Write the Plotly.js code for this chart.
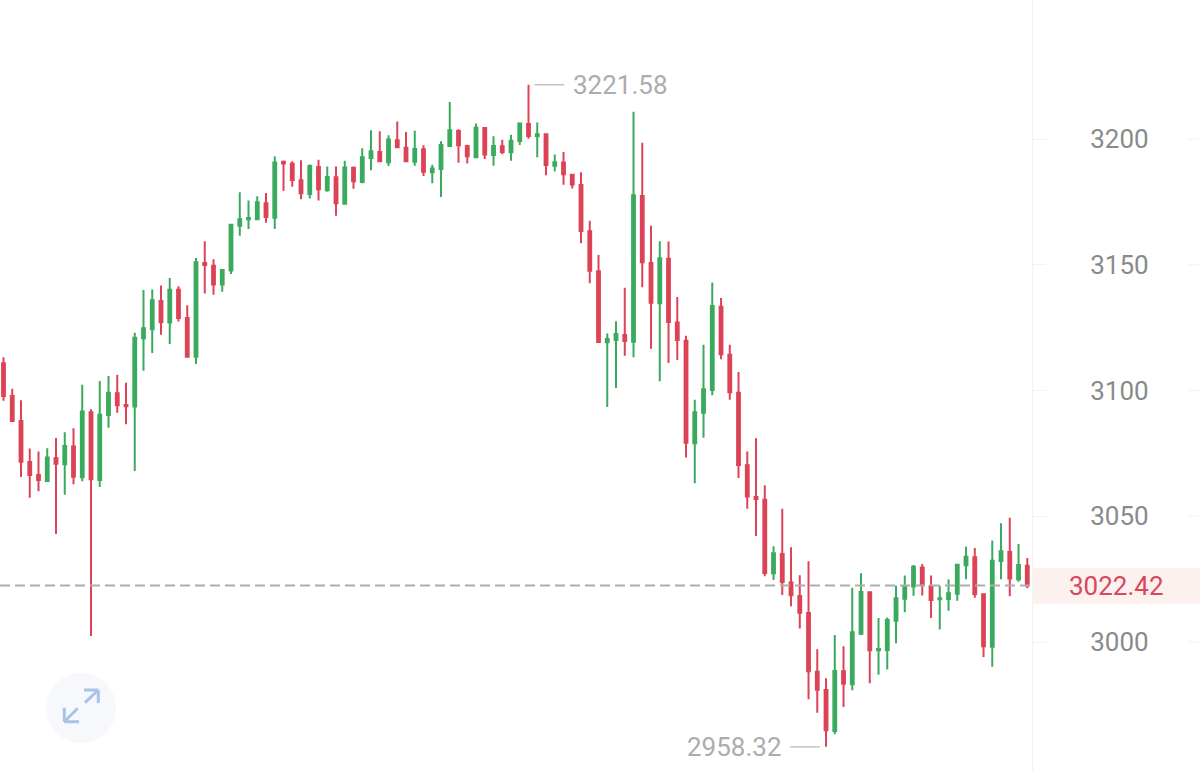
<!DOCTYPE html>
<html>
<head>
<meta charset="utf-8">
<script src="https://cdn.plot.ly/plotly-3.0.1.min.js"></script>
<style>html,body{margin:0;padding:0;background:#fff}#chart{width:1200px;height:771px}</style>
</head>
<body>
<div id="chart"></div>
<script>
var open = [3110.8,3097.8,3087.9,3071.6,3066.4,3064.0,3073.2,3070.7,3077.7,3065.5,3091.4,3064.4,3090.3,3098.9,3094.2,3093.6,3120.8,3124.4,3135.6,3127.0,3140.1,3128.8,3113.4,3150.7,3149.6,3142.1,3147.7,3165.5,3168.1,3168.1,3174.5,3168.7,3191.0,3190.2,3183.6,3178.1,3188.9,3179.6,3184.8,3174.3,3188.6,3182.9,3192.4,3194.8,3190.8,3199.5,3196.5,3191.0,3195.9,3186.8,3188.1,3197.2,3203.2,3197.2,3192.7,3204.4,3193.6,3197.1,3194.7,3199.2,3206.0,3201.1,3201.9,3189.4,3190.7,3185.8,3181.7,3163.3,3147.4,3119.2,3120.1,3122.1,3119.4,3177.3,3150.7,3134.7,3152.4,3127.0,3119.8,3079.0,3091.2,3100.2,3133.3,3114.2,3099.1,3070.3,3057.7,3056.6,3027.3,3035.0,3023.7,3018.3,3011.5,2988.2,2980.9,2964.6,2988.4,2983.2,3003.3,3019.8,2996.7,2996.8,3008.5,3017.2,3022.1,3029.6,3022.2,3017.0,3017.1,3019.2,3030.5,3033.7,3019.0,2998.1,3032.2,3035.8,3025.0,3030.3];
var high = [3113.2,3100.7,3096.1,3076.9,3075.7,3077.0,3081.1,3083.4,3085.0,3102.3,3092.5,3103.8,3105.8,3106.3,3103.1,3123.0,3140.0,3140.2,3141.8,3144.7,3141.5,3133.9,3152.7,3159.3,3152.2,3147.9,3166.1,3178.8,3175.5,3177.2,3178.5,3193.1,3191.5,3191.2,3191.6,3189.9,3191.8,3189.1,3189.1,3191.4,3189.1,3196.3,3203.5,3203.1,3201.5,3207.0,3202.8,3203.3,3197.5,3189.8,3199.1,3214.7,3203.9,3197.7,3206.2,3204.5,3201.1,3199.7,3201.7,3206.2,3221.58,3206.6,3202.1,3193.8,3194.8,3186.2,3186.8,3167.5,3153.9,3122.7,3127.5,3140.9,3210.8,3198.5,3165.5,3159.3,3159.2,3137.2,3121.8,3096.3,3118.2,3142.9,3136.8,3118.2,3107.4,3075.7,3081.0,3062.3,3038.1,3053.0,3037.7,3026.5,3032.1,2997.1,2985.6,3002.8,2998.3,3021.6,3027.3,3020.0,3009.5,3009.7,3022.4,3026.4,3030.6,3031.0,3026.4,3022.3,3024.9,3030.9,3037.9,3037.4,3019.1,3040.4,3047.2,3049.4,3039.0,3033.4];
var low = [3095.9,3087.7,3065.6,3057.4,3059.9,3063.7,3042.9,3058.6,3062.7,3063.9,3002.4,3061.6,3085.2,3091.2,3086.6,3068.0,3107.9,3114.9,3122.2,3118.5,3127.4,3113.2,3110.5,3138.6,3138.1,3139.3,3146.3,3161.5,3164.2,3167.8,3166.7,3164.2,3179.3,3181.0,3176.0,3176.3,3175.5,3179.0,3169.5,3174.1,3180.2,3182.4,3187.6,3191.0,3189.3,3196.3,3191.1,3189.4,3185.3,3182.4,3176.9,3197.1,3190.6,3190.3,3192.3,3192.0,3189.4,3193.9,3191.4,3197.6,3200.1,3192.7,3185.6,3187.1,3181.8,3180.3,3158.6,3142.6,3119.2,3093.4,3101.0,3113.8,3113.2,3141.1,3116.6,3103.7,3110.9,3112.1,3073.4,3063.1,3081.2,3098.1,3112.4,3096.3,3065.2,3053.0,3042.1,3026.1,3024.7,3018.7,3014.2,3005.4,2977.2,2971.9,2958.32,2963.3,2974.2,2980.8,3002.8,2983.6,2987.0,2989.1,2999.5,3011.8,3018.4,3018.5,3009.5,3005.0,3012.4,3016.4,3025.0,3017.6,2994.0,2990.2,3025.0,3018.2,3024.0,3021.4];
var close = [3097.8,3087.9,3071.7,3066.4,3064.4,3073.4,3070.9,3077.9,3065.7,3091.7,3064.7,3090.4,3099.1,3094.1,3093.7,3121.0,3124.8,3135.9,3127.1,3140.1,3128.8,3113.4,3151.0,3149.9,3142.1,3147.9,3165.9,3168.1,3168.6,3174.9,3169.0,3190.7,3190.3,3183.7,3178.4,3189.3,3180.0,3184.9,3174.5,3188.7,3183.2,3192.7,3195.1,3191.2,3199.8,3196.7,3191.2,3196.0,3187.0,3188.3,3197.6,3203.5,3197.5,3193.1,3204.5,3193.8,3197.2,3194.8,3199.3,3206.2,3201.2,3201.9,3189.7,3190.8,3186.0,3181.9,3163.4,3147.6,3119.3,3120.5,3122.5,3119.7,3177.6,3151.0,3134.9,3152.6,3127.2,3120.1,3079.2,3091.4,3100.5,3133.6,3114.4,3099.3,3070.4,3057.9,3056.9,3027.4,3035.3,3023.9,3018.6,3011.6,2988.4,2981.0,2964.9,2988.5,2983.4,3003.9,3019.9,2996.7,2997.2,3008.7,3017.4,3022.0,3029.9,3022.6,3016.7,3017.4,3019.4,3030.7,3033.9,3019.1,2998.3,3032.3,3036.1,3025.3,3030.6,3022.42];
var xIndex = open.map(function (_, i) { return i; });

var yTicks = [3000, 3050, 3100, 3150, 3200];
var lastPrice = 3022.42;
var lastPriceLabel = '3022.42';
var maxPrice = 3221.58;
var maxLabel = '3221.58';
var maxIndex = 60;
var minPrice = 2958.32;
var minLabel = '2958.32';
var minIndex = 94;

var W = 1200, H = 771, PLOT_W = 1032;
function fx(p) { return p / W; }
function fy(p) { return 1 - p / H; }
function seg(x0, y0, x1, y1, color, w) {
  return {type: 'line', xref: 'paper', yref: 'paper', x0: fx(x0), y0: fy(y0), x1: fx(x1), y1: fy(y1), line: {color: color, width: w}};
}

var shapes = [];
// current price band, behind the axis text
shapes.push({type: 'rect', xref: 'paper', yref: 'paper', x0: fx(1033), x1: 1, y0: fy(604), y1: fy(568),
  fillcolor: '#fdf1ef', line: {width: 0}, layer: 'below'});
// right-edge tick stubs
yTicks.forEach(function (v) {
  shapes.push({type: 'line', xref: 'paper', yref: 'y', x0: fx(1188), x1: 1, y0: v, y1: v, line: {color: '#f2f2f2', width: 1}, layer: 'below'});
});
// last price dashed line
shapes.push({type: 'line', xref: 'paper', yref: 'y', x0: 0, x1: fx(1031), y0: lastPrice, y1: lastPrice,
  line: {color: '#adadad', width: 2, dash: '10px,5px'}});
// high and low leader lines
shapes.push({type: 'line', xref: 'x', yref: 'y', x0: maxIndex + 0.7, x1: maxIndex + 4.1, y0: maxPrice, y1: maxPrice, line: {color: '#c4c4c4', width: 1.5}});
shapes.push({type: 'line', xref: 'x', yref: 'y', x0: minIndex - 4.1, x1: minIndex - 0.7, y0: minPrice, y1: minPrice, line: {color: '#c4c4c4', width: 1.5}});
// expand button
shapes.push({type: 'circle', xref: 'paper', yref: 'paper', x0: fx(46), x1: fx(116), y0: fy(743), y1: fy(673),
  fillcolor: '#f6f8fc', line: {width: 0}, layer: 'below'});
var blue = '#a8c3e8';
shapes.push(seg(84, 690, 98.3, 690, blue, 3));
shapes.push(seg(98.3, 690, 98.3, 703, blue, 3));
shapes.push(seg(98.3, 690, 85, 702.7, blue, 3));
shapes.push(seg(64.3, 721.7, 64.3, 707.7, blue, 3));
shapes.push(seg(64.3, 721.7, 79, 721.7, blue, 3));
shapes.push(seg(64.3, 721.7, 77.7, 708.3, blue, 3));

var annFont = 'Roboto, "Noto Sans", sans-serif';
var annotations = [
  {xref: 'x', yref: 'y', x: maxIndex + 4.9, y: maxPrice, text: maxLabel, showarrow: false, xanchor: 'left', yanchor: 'middle',
   font: {family: annFont, size: 26, color: '#acacac'}},
  {xref: 'x', yref: 'y', x: minIndex - 4.8, y: minPrice, text: minLabel, showarrow: false, xanchor: 'right', yanchor: 'middle',
   font: {family: annFont, size: 26, color: '#acacac'}},
  {xref: 'paper', yref: 'y', x: fx(1116), y: lastPrice, text: lastPriceLabel, showarrow: false, xanchor: 'center', yanchor: 'middle',
   font: {family: annFont, size: 26, color: '#d8485c'}}
];

var trace = {
  type: 'candlestick',
  x: xIndex, open: open, high: high, low: low, close: close,
  increasing: {line: {color: '#3aaa5e', width: 2}, fillcolor: '#3aaa5e'},
  decreasing: {line: {color: '#dd4356', width: 2}, fillcolor: '#dd4356'},
  whiskerwidth: 0,
  hoverinfo: 'skip'
};

var layout = {
  width: W, height: H,
  margin: {l: 0, r: 0, t: 0, b: 0, pad: 0},
  paper_bgcolor: '#ffffff', plot_bgcolor: '#ffffff',
  showlegend: false,
  boxgap: 0.54,
  xaxis: {domain: [0, PLOT_W / W], range: [-0.4, 117.54], rangeslider: {visible: false},
    showgrid: false, zeroline: false, showticklabels: false, ticks: '', showline: false},
  yaxis: {side: 'right', range: [2948.71, 3255.27], tickmode: 'array', tickvals: yTicks, ticktext: yTicks.map(String),
    showgrid: false, zeroline: false, showline: true, linecolor: '#f3f3f3', linewidth: 1,
    ticks: 'outside', ticklen: 13, tickcolor: '#f2f2f2', tickwidth: 1, ticklabelstandoff: 39,
    tickfont: {family: annFont, size: 26, color: '#8a8a8a'}},
  shapes: shapes,
  annotations: annotations
};

Plotly.newPlot('chart', [trace], layout, {displayModeBar: false, staticPlot: true});
</script>
</body>
</html>
